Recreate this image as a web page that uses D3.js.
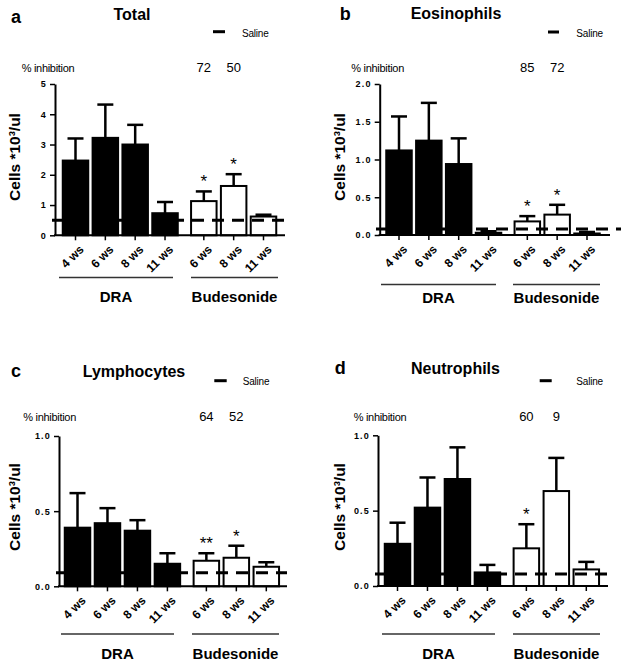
<!DOCTYPE html>
<html><head><meta charset="utf-8">
<script src="https://cdn.jsdelivr.net/npm/d3@7"></script>
<style>
body{margin:0;background:#fff;}
svg text{font-family:"Liberation Sans",Arial,Helvetica,sans-serif;fill:#000;}
</style></head><body>
<svg id="chart" width="626" height="661"></svg>
<script>
// ---------- DATA ----------
const categories = ["4 ws","6 ws","8 ws","11 ws","6 ws","8 ws","11 ws"];
const groupNames = ["DRA","Budesonide"];
const panelLetters = ["a","b","c","d"];
const panelTitles = ["Total","Eosinophils","Lymphocytes","Neutrophils"];
const legendLabel = "Saline";
const inhibitionLabel = "% inhibition";
const yAxisLabel = "Cells *10³/ul";

const totalMean = [2.47, 3.22, 3.00, 0.73, 1.13, 1.63, 0.62];
const totalSem  = [0.73, 1.10, 0.65, 0.37, 0.32, 0.39, 0.06];
const totalSaline = 0.5;
const totalStars = ["", "", "", "", "*", "*", ""];
const totalInhibition = ["72", "50"];
const totalTicks = [0, 1, 2, 3, 4, 5];

const eosMean = [1.12, 1.25, 0.94, 0.03, 0.18, 0.27, 0.02];
const eosSem  = [0.45, 0.50, 0.34, 0.02, 0.07, 0.13, 0.02];
const eosSaline = 0.08;
const eosStars = ["", "", "", "", "*", "*", ""];
const eosInhibition = ["85", "72"];
const eosTicks = [0, 0.5, 1.0, 1.5, 2.0];

const lymMean = [0.39, 0.42, 0.37, 0.15, 0.17, 0.19, 0.13];
const lymSem  = [0.23, 0.10, 0.07, 0.07, 0.05, 0.08, 0.03];
const lymSaline = 0.09;
const lymStars = ["", "", "", "", "**", "*", ""];
const lymInhibition = ["64", "52"];
const lymTicks = [0, 0.5, 1.0];

const neuMean = [0.28, 0.52, 0.71, 0.09, 0.25, 0.63, 0.11];
const neuSem  = [0.14, 0.20, 0.21, 0.05, 0.16, 0.22, 0.05];
const neuSaline = 0.08;
const neuStars = ["", "", "", "", "*", "", ""];
const neuInhibition = ["60", "9"];
const neuTicks = [0, 0.5, 1.0];

// ---------- LAYOUT ----------
const slots = [0, 1, 2, 3, 4.3, 5.3, 6.3];
const panels = [
  {mean: totalMean, sem: totalSem, salineVal: totalSaline, stars: totalStars, inhib: totalInhibition,
   ticks: totalTicks, yMax: 5, fmt: d3.format("d"),
   axisX: 55, y0: 235.3, yTop: 84, x0: 75.5, x6: 263.5, axisEnd: 285, dash: [52, 285],
   groupY: 277.5, groupLabelY: 302, dra: [59, 173], bud: [191, 278],
   letter: [11, 23], titleC: [132, 19.5], legDash: [213, 225, 31.7], salineText: [242, 36.5],
   inhibY: 71.7, inhibX: 21.7, yLab: [14.5, 157]},
  {mean: eosMean, sem: eosSem, salineVal: eosSaline, stars: eosStars, inhib: eosInhibition,
   ticks: eosTicks, yMax: 2, fmt: d3.format(".1f"),
   axisX: 379.7, y0: 235, yTop: 84, x0: 399, x6: 587, axisEnd: 610, dash: [376, 621],
   groupY: 284.5, groupLabelY: 302.5, dra: [381, 496], bud: [513, 600],
   letter: [339.7, 19.5], titleC: [456, 18.5], legDash: [548, 559, 32], salineText: [576.3, 36.5],
   inhibY: 71.7, inhibX: 351.3, yLab: [340, 157]},
  {mean: lymMean, sem: lymSem, salineVal: lymSaline, stars: lymStars, inhib: lymInhibition,
   ticks: lymTicks, yMax: 1, fmt: d3.format(".1f"),
   axisX: 59, y0: 586.3, yTop: 436, x0: 77.5, x6: 266.3, axisEnd: 287, dash: [56, 287],
   groupY: 634, groupLabelY: 659, dra: [61, 174], bud: [192, 279],
   letter: [11, 377], titleC: [134, 377], legDash: [214.3, 226.7, 380.7], salineText: [242.7, 385],
   inhibY: 421, inhibX: 23.3, yLab: [14.5, 507]},
  {mean: neuMean, sem: neuSem, salineVal: neuSaline, stars: neuStars, inhib: neuInhibition,
   ticks: neuTicks, yMax: 1, fmt: d3.format(".1f"),
   axisX: 378, y0: 586, yTop: 435.3, x0: 397.5, x6: 586.3, axisEnd: 608, dash: [375, 608],
   groupY: 634, groupLabelY: 659, dra: [382, 495], bud: [513, 600],
   letter: [334.7, 373.5], titleC: [455.5, 374], legDash: [539.7, 551.7, 380.7], salineText: [576.3, 385],
   inhibY: 421, inhibX: 353.7, yLab: [340, 507]}
];

const svg = d3.select("#chart");
svg.append("rect").attr("width", 626).attr("height", 661).attr("fill", "#fff");

panels.forEach((p, pi) => {
  const g = svg.append("g");
  const x = d3.scaleLinear().domain([0, 6.3]).range([p.x0, p.x6]);
  const y = d3.scaleLinear().domain([0, p.yMax]).range([p.y0, p.yTop]);
  const bw = 25.5;

  // bars
  g.selectAll("rect.bar").data(p.mean).join("rect").attr("class", "bar")
    .attr("x", (d, i) => x(slots[i]) - bw / 2)
    .attr("y", d => y(d))
    .attr("width", bw)
    .attr("height", d => y(0) - y(d))
    .attr("fill", (d, i) => i < 4 ? "#000" : "#fff")
    .attr("stroke", "#000").attr("stroke-width", 2);

  // error bars (upper only)
  g.selectAll("line.err").data(p.mean).join("line").attr("class", "err")
    .attr("x1", (d, i) => x(slots[i])).attr("x2", (d, i) => x(slots[i]))
    .attr("y1", d => y(d)).attr("y2", (d, i) => y(d + p.sem[i]))
    .attr("stroke", "#000").attr("stroke-width", 2.5);
  g.selectAll("line.cap").data(p.mean).join("line").attr("class", "cap")
    .attr("x1", (d, i) => x(slots[i]) - 8).attr("x2", (d, i) => x(slots[i]) + 8)
    .attr("y1", (d, i) => y(d + p.sem[i])).attr("y2", (d, i) => y(d + p.sem[i]))
    .attr("stroke", "#000").attr("stroke-width", 2.5);

  // saline dashed line
  g.append("line")
    .attr("x1", p.dash[0]).attr("x2", p.dash[1])
    .attr("y1", y(p.salineVal)).attr("y2", y(p.salineVal))
    .attr("stroke", "#000").attr("stroke-width", 3).attr("stroke-dasharray", "12,8");

  // stars
  g.selectAll("text.star").data(p.stars).join("text").attr("class", "star")
    .attr("x", (d, i) => x(slots[i]))
    .attr("y", (d, i) => y(p.mean[i] + p.sem[i]) - 4)
    .attr("text-anchor", "middle").attr("font-size", 17)
    .text(d => d);

  // y axis
  const yAxis = d3.axisLeft(y).tickValues(p.ticks).tickFormat(p.fmt)
    .tickSize(5).tickSizeOuter(0).tickPadding(3);
  const ya = g.append("g").attr("transform", `translate(${p.axisX},0)`).call(yAxis);
  ya.select(".domain").attr("stroke", "#000").attr("stroke-width", 2);
  ya.selectAll(".tick line").attr("stroke", "#000").attr("stroke-width", 1.5);
  ya.selectAll(".tick text").attr("font-size", 9).attr("font-weight", "bold")
    .attr("letter-spacing", 1.2).style("font-family", '"Liberation Sans",Arial,sans-serif');

  // x axis
  g.append("line").attr("x1", p.axisX - 1).attr("x2", p.axisEnd)
    .attr("y1", p.y0).attr("y2", p.y0).attr("stroke", "#000").attr("stroke-width", 2);
  g.selectAll("line.xt").data(categories).join("line").attr("class", "xt")
    .attr("x1", (d, i) => x(slots[i])).attr("x2", (d, i) => x(slots[i]))
    .attr("y1", p.y0).attr("y2", p.y0 + 5).attr("stroke", "#000").attr("stroke-width", 1.5);
  g.selectAll("text.xl").data(categories).join("text").attr("class", "xl")
    .attr("transform", (d, i) => `translate(${x(slots[i]) + 6},${p.y0 + 12}) rotate(-45)`)
    .attr("text-anchor", "end").attr("dy", "0.35em")
    .attr("font-size", 12).attr("font-weight", "bold")
    .text(d => d);

  // group lines & labels
  [p.dra, p.bud].forEach((seg, k) => {
    g.append("line").attr("x1", seg[0]).attr("x2", seg[1])
      .attr("y1", p.groupY).attr("y2", p.groupY)
      .attr("stroke", "#333").attr("stroke-width", 1.5);
    g.append("text").attr("x", (seg[0] + seg[1]) / 2).attr("y", p.groupLabelY)
      .attr("text-anchor", "middle").attr("font-size", 15).attr("font-weight", "bold")
      .text(groupNames[k]);
  });

  // y label
  g.append("text")
    .attr("transform", `translate(${p.yLab[0]},${p.yLab[1]}) rotate(-90)`)
    .attr("text-anchor", "middle").attr("dy", "0.35em")
    .attr("font-size", 15.5).attr("font-weight", "bold")
    .text(yAxisLabel);

  // panel letter and title
  g.append("text").attr("x", p.letter[0]).attr("y", p.letter[1])
    .attr("font-size", 18).attr("font-weight", "bold").text(panelLetters[pi]);
  g.append("text").attr("x", p.titleC[0]).attr("y", p.titleC[1])
    .attr("text-anchor", "middle").attr("font-size", 16).attr("font-weight", "bold")
    .text(panelTitles[pi]);

  // legend
  g.append("line").attr("x1", p.legDash[0]).attr("x2", p.legDash[1])
    .attr("y1", p.legDash[2]).attr("y2", p.legDash[2])
    .attr("stroke", "#000").attr("stroke-width", 3);
  g.append("text").attr("x", p.salineText[0]).attr("y", p.salineText[1])
    .attr("font-size", 10).attr("letter-spacing", -0.2).text(legendLabel);

  // inhibition
  g.append("text").attr("x", p.inhibX).attr("y", p.inhibY)
    .attr("font-size", 11).attr("letter-spacing", -0.3).text(inhibitionLabel);
  g.selectAll("text.inh").data(p.inhib).join("text").attr("class", "inh")
    .attr("x", (d, i) => x(slots[4 + i])).attr("y", p.inhibY)
    .attr("text-anchor", "middle").attr("font-size", 13)
    .text(d => d);
});
</script>
</body></html>
